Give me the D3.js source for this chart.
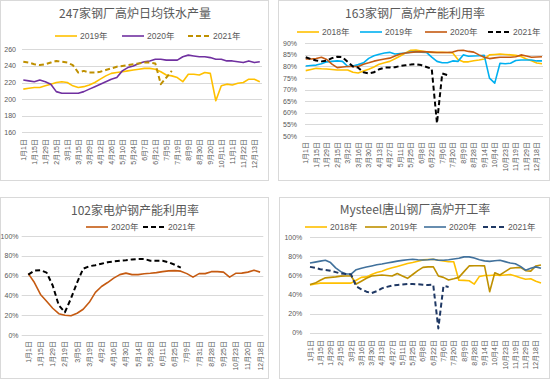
<!DOCTYPE html>
<html>
<head>
<meta charset="utf-8">
<script src="https://cdn.jsdelivr.net/npm/d3@7"></script>
<style>
  body { margin: 0; background: #fff; }
  text { font-family: "Liberation Sans", "Noto Sans CJK SC", sans-serif; fill: #595959; }
</style>
</head>
<body>
<div id="chart"></div>
<script>
// ---- categories (tick labels shown every 2nd category) ----
var dates247 = ["1月1日","1月8日","1月15日","1月22日","1月29日","2月8日","2月15日","2月22日","3月1日","3月8日",
    "3月15日","3月22日","3月29日","4月5日","4月12日","4月19日","4月26日","5月3日","5月10日","5月17日",
    "5月24日","5月31日","6月7日","6月14日","6月21日","6月28日","7月5日","7月12日","7月19日","7月26日",
    "8月9日","8月16日","8月30日","9月6日","9月20日","9月27日","10月11日","10月18日","11月1日","11月8日",
    "11月22日","11月29日","12月13日","12月20日"];
var dates163 = ["1月1日","1月8日","1月15日","1月22日","1月29日","2月5日","2月15日","2月22日","3月2日","3月9日",
    "3月16日","3月23日","3月30日","4月6日","4月13日","4月20日","4月27日","5月4日","5月11日","5月18日",
    "5月25日","6月1日","6月8日","6月15日","6月22日","6月29日","7月6日","7月13日","7月20日","7月27日",
    "8月9日","8月16日","8月28日","9月4日","9月14日","9月21日","10月4日","10月11日","10月23日","10月30日",
    "11月19日","11月24日","11月29日","12月6日","12月18日","12月25日"];
var dates102 = ["1月1日","1月8日","1月15日","1月22日","1月29日","2月5日","2月19日","2月26日","3月5日","3月12日",
    "3月19日","3月26日","4月2日","4月9日","4月16日","4月23日","4月30日","5月7日","5月14日","5月21日",
    "5月28日","6月4日","6月11日","6月18日","6月25日","7月2日","7月9日","7月17日","7月31日","8月14日",
    "8月28日","9月11日","9月25日","10月9日","10月23日","11月6日","11月20日","12月4日","12月18日"];
var datesTS = dates163;

// ---- 247家钢厂高炉日均铁水产量 (万吨) ----
var iron2019 = [212,213,214,214,216,218,220,221,220,216,214,215,217,220,224,228,231,232,233,234,
    235,236,237,237,236,233,229,228,226,221,230,230,229,232,231,198,216,218,217,219,220,224,224,221];
var iron2020 = [223,222,221,223,221,218,209,207,207,207,207,209,212,215,218,221,224,226,234,238,
    240,243,245,246,248,248,247,247,247,251,253,252,251,251,250,248,248,246,246,245,244,246,244,245];
var iron2021 = [245,244,242,241,242,244,246,245,244,241,232,234,232,232,233,235,237,239,240,241,
    242,243,244,244,243,218,226,234];

// ---- 163家钢厂高炉产能利用率 (%) ----
var bf2018 = [78.2,78.7,79.2,79.0,78.9,78.7,78.5,78.5,78.5,77.5,77.2,78.0,78.8,79.8,81.0,81.6,82.2,83.3,84.5,85.8,
    87.0,87.1,86.7,86.3,86.1,86.1,86.1,86.0,85.8,83.0,82.0,82.0,82.5,82.8,83.2,85.0,85.2,85.4,85.2,85.0,
    84.8,84.3,83.2,82.5,81.5,81.2];
var bf2019 = [80.2,80.4,80.6,81.2,82.0,82.2,82.4,82.2,80.0,80.2,80.8,81.6,83.5,84.6,85.3,85.8,86.1,85.4,85.6,85.8,
    86.2,86.4,86.2,86.1,84.0,82.2,81.6,81.6,82.4,82.2,85.0,84.4,84.5,84.6,84.8,75.0,72.8,81.4,81.2,81.4,
    82.6,82.8,82.8,82.8,82.4,82.4];
var bf2020 = [83.2,83.2,83.4,84.0,83.0,81.0,79.5,79.8,80.0,80.0,80.0,81.0,81.6,82.3,82.8,83.2,83.6,84.5,85.4,85.8,
    86.1,86.3,86.4,86.3,86.2,86.0,86.0,86.0,86.2,86.9,87.0,86.5,86.2,85.0,84.0,83.4,83.7,84.0,84.0,84.0,
    84.2,85.0,84.5,84.0,84.1,84.2];
var bf2021 = [84.0,83.2,82.6,82.2,82.5,83.6,84.2,84.0,82.0,80.0,79.5,77.5,77.0,77.5,78.8,79.5,79.6,79.7,80.2,80.5,
    80.8,81.0,80.6,79.8,79.0,55.5,77.0,76.3];

// ---- 102家电炉钢产能利用率 (%) ----
var eaf2020 = [62,53,41,34,27,21.5,20,19.5,22,26,33,43,49,53,57.5,61,62.5,61,61,61.8,
    62.3,63,64,64.8,65,64.5,62,58.5,62,62,64,64,63.5,58.5,62.3,62.5,63.5,65.5,63.5];
var eaf2021 = [61,65,65.5,63,50,30,23,37,53,67,69.5,70.5,72,73.5,74.3,75,75.5,76.3,76.8,76.8,
    75,75,75,73.5,71,68];

// ---- Mysteel唐山钢厂高炉开工率 (%) ----
var ts2018 = [50,51,52,52,52,52,52,52,52,55,58,58.5,61,63,64.5,66.5,68,69.5,71,72.5,
    73.5,75,76.3,76.8,77,76,75.3,74.4,74.4,55,54.8,54.5,51,59,60,60,60.5,60,60.5,61,
    59.5,57.5,56,56.5,54,52];
var ts2019 = [50.5,52,55,57.5,58,58.5,59.3,59.4,59.4,51,54,57,59.4,60,60.5,60,59.4,62,59.5,57,
    61,65,68.5,69,69.2,59.5,58,55.2,56.5,58,64,70,70.2,70.2,70,43,62.9,60.5,64,67.5,
    68,68.5,65,64.5,70,71];
var ts2020 = [73,74,75,76,73.5,68,64,61.5,61.5,66,67.5,68.8,70,71.2,72,73,74,75,75.8,76.5,
    77,76.5,76.2,76.5,77,76,76,76.5,77.3,78,79.5,79.5,78.2,76.5,75.3,74.8,75.5,76,74.5,73,
    72.3,69.5,65.5,67.5,69,67.5];
var ts2021 = [69,68,66.5,65.8,65,63.5,62,61.5,61,48.5,45.5,43,41.5,43.5,46.5,48,49.5,50,50.5,51,
    51,50.7,50.3,50,50.5,4.5,49,48];

var svg = d3.select("#chart").append("svg")
    .attr("width", 550)
    .attr("height", 382);

// panel frames
[[0.5, 0.5, 268, 180], [278.5, 0.5, 271, 180], [0.5, 197.5, 268, 181], [279.5, 197.5, 270, 181]].forEach(function (r) {
    svg.append("rect").attr("x", r[0]).attr("y", r[1]).attr("width", r[2]).attr("height", r[3])
        .style("fill", "none").style("stroke", "#d9d9d9");
});

draw_panel = function (cfg) {
    var g = svg.append("g");

    var x = d3.scalePoint().domain(cfg.cats).range(cfg.xr);
    var y = d3.scaleLinear().domain(cfg.yd).range(cfg.yr);

    // gridlines
    g.selectAll("line.grid")
        .data(cfg.ticks)
        .enter()
        .append("line")
        .attr("x1", cfg.gx[0]).attr("x2", cfg.gx[1])
        .attr("y1", function (d) { return Math.round(y(d)) + 0.5; })
        .attr("y2", function (d) { return Math.round(y(d)) + 0.5; })
        .style("stroke", "#d9d9d9")
        .style("stroke-width", 1);

    // y labels
    g.selectAll("text.ylab")
        .data(cfg.ticks)
        .enter()
        .append("text")
        .attr("x", cfg.ylx)
        .attr("y", function (d) { return y(d) + 2.5; })
        .attr("text-anchor", "end")
        .style("font-size", "7px")
        .text(cfg.fmt);

    // x labels, every 2nd category
    var shown = cfg.cats.filter(function (d, i) { return i % 2 === 0; });
    g.selectAll("text.xlab")
        .data(shown)
        .enter()
        .append("text")
        .attr("transform", function (d) {
            return "translate(" + (x(d) + 2.5) + "," + cfg.xly + ") rotate(-90)";
        })
        .attr("text-anchor", "end")
        .style("font-size", "7px")
        .text(function (d) { return d; });

    // lines
    var line = d3.line()
        .x(function (d, i) { return x(cfg.cats[i]); })
        .y(function (d) { return y(d); });
    cfg.series.forEach(function (s) {
        g.append("path")
            .attr("d", line(s.values))
            .style("fill", "none")
            .style("stroke", s.color)
            .style("stroke-width", s.dash ? 2 : 1.6)
            .style("stroke-dasharray", s.dash ? "5,3" : null)
            .style("stroke-linejoin", "round");
    });

    // title
    g.append("text")
        .attr("x", cfg.title[1])
        .attr("y", cfg.title[2])
        .attr("text-anchor", "middle")
        .style("font-size", "12px")
        .style("font-family", "'Noto Sans CJK SC', sans-serif")
        .text(cfg.title[0]);

    // legend
    cfg.series.forEach(function (s, i) {
        var lx = cfg.legend[i];
        g.append("line")
            .attr("x1", lx).attr("x2", lx + 22)
            .attr("y1", cfg.ly).attr("y2", cfg.ly)
            .style("stroke", s.color)
            .style("stroke-width", s.dash ? 2 : 1.6)
            .style("stroke-dasharray", s.dash ? "5,3" : null);
        g.append("text")
            .attr("x", lx + 25)
            .attr("y", cfg.ly + 3)
            .style("font-size", "8.5px")
            .text(s.name);
    });
};

draw_panel({
    title: ["247家钢厂高炉日均铁水产量", 135, 18],
    cats: dates247, xr: [23.3, 259.8], gx: [22, 262],
    yd: [160, 260], yr: [132.3, 49.3], ticks: [160, 180, 200, 220, 240, 260],
    fmt: function (d) { return d; }, ylx: 16, xly: 139,
    ly: 36, legend: [55, 122, 188],
    series: [
        {name: "2019年", values: iron2019, color: "#ffc000"},
        {name: "2020年", values: iron2020, color: "#7030a0"},
        {name: "2021年", values: iron2021, color: "#bf9000", dash: true}
    ]
});

draw_panel({
    title: ["163家钢厂高炉产能利用率", 415, 18],
    cats: dates163, xr: [305.7, 542], gx: [305, 543],
    yd: [50, 90], yr: [136, 43.3], ticks: [50, 55, 60, 65, 70, 75, 80, 85, 90],
    fmt: function (d) { return d + "%"; }, ylx: 297, xly: 142,
    ly: 32, legend: [297, 360, 425, 488],
    series: [
        {name: "2018年", values: bf2018, color: "#ffc000"},
        {name: "2019年", values: bf2019, color: "#00b0f0"},
        {name: "2020年", values: bf2020, color: "#c55a11"},
        {name: "2021年", values: bf2021, color: "#000000", dash: true}
    ]
});

draw_panel({
    title: ["102家电炉钢产能利用率", 135, 215],
    cats: dates102, xr: [28.3, 260.1], gx: [21.7, 263.3],
    yd: [0, 100], yr: [335, 236], ticks: [0, 20, 40, 60, 80, 100],
    fmt: function (d) { return d + "%"; }, ylx: 18.5, xly: 341,
    ly: 227, legend: [86, 143],
    series: [
        {name: "2020年", values: eaf2020, color: "#c55a11"},
        {name: "2021年", values: eaf2021, color: "#000000", dash: true}
    ]
});

draw_panel({
    title: ["Mysteel唐山钢厂高炉开工率", 415, 214],
    cats: datesTS, xr: [310, 541], gx: [310, 541.7],
    yd: [0, 100], yr: [332.7, 237.3], ticks: [0, 20, 40, 60, 80, 100],
    fmt: function (d) { return d + "%"; }, ylx: 302.3, xly: 340,
    ly: 227, legend: [305, 365, 424, 483],
    series: [
        {name: "2018年", values: ts2018, color: "#ffc000"},
        {name: "2019年", values: ts2019, color: "#bf9000"},
        {name: "2020年", values: ts2020, color: "#41719c"},
        {name: "2021年", values: ts2021, color: "#1f3864", dash: true}
    ]
});
</script>
</body>
</html>
